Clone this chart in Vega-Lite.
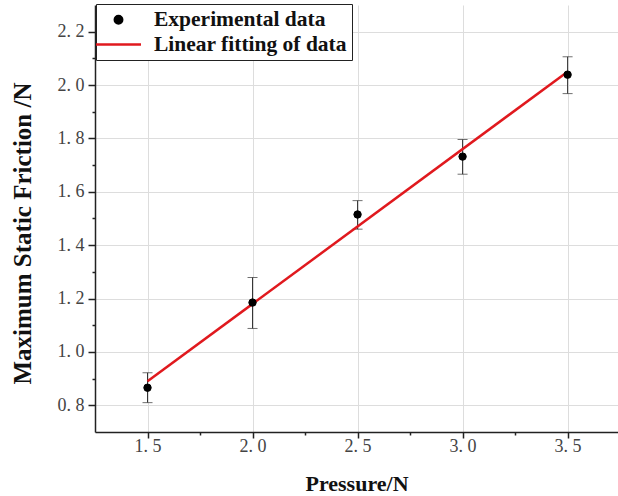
{
  "$schema": "https://vega.github.io/schema/vega-lite/v6.json",
  "width": 523,
  "height": 427,
  "autosize": "none",
  "padding": {"left": 95, "top": 5, "right": 0, "bottom": 64},
  "background": "white",
  "config": {
    "view": {"stroke": null},
    "font": "Liberation Serif",
    "axis": {
      "labelFont": "Liberation Serif",
      "labelFontSize": 18,
      "labelColor": "#444444",
      "titleFont": "Liberation Serif",
      "titleFontWeight": "bold",
      "titleFontSize": 22,
      "titleColor": "#111111",
      "domainColor": "#222222",
      "domainWidth": 1.5,
      "tickColor": "#222222",
      "tickWidth": 1.5,
      "gridColor": "#dddddd",
      "gridWidth": 1
    }
  },
  "datasets": {
    "exp": [
      {"p": 1.5, "f": 0.866, "lo": 0.81, "hi": 0.922, "series": "Experimental data"},
      {"p": 2.0, "f": 1.185, "lo": 1.088, "hi": 1.279, "series": "Experimental data"},
      {"p": 2.5, "f": 1.515, "lo": 1.46, "hi": 1.567, "series": "Experimental data"},
      {"p": 3.0, "f": 1.732, "lo": 1.666, "hi": 1.796, "series": "Experimental data"},
      {"p": 3.5, "f": 2.039, "lo": 1.968, "hi": 2.106, "series": "Experimental data"}
    ],
    "fit": [
      {"p": 1.5, "f": 0.89, "series": "Linear fitting of data"},
      {"p": 3.5, "f": 2.05, "series": "Linear fitting of data"}
    ]
  },
  "layer": [
    {
      "data": {"name": "exp"},
      "mark": {"type": "rule", "color": "#333333", "strokeWidth": 1},
      "encoding": {
        "x": {"field": "p", "type": "quantitative", "scale": {"domain": [1.25, 3.74], "nice": false, "zero": false},
          "axis": {"orient": "bottom", "values": [1.5, 2.0, 2.5, 3.0, 3.5], "grid": true, "tickSize": 6, "labelPadding": -1,
            "labelExpr": "replace(format(datum.value, '.1f'), '.', '. ')", "title": "Pressure/N", "titlePadding": 18}},
        "y": {"field": "lo", "type": "quantitative", "scale": {"domain": [0.7, 2.3], "nice": false, "zero": false},
          "axis": {"orient": "left", "values": [0.8, 1.0, 1.2, 1.4, 1.6, 1.8, 2.0, 2.2], "grid": true, "tickSize": 7, "labelPadding": 4,
            "labelExpr": "replace(format(datum.value, '.1f'), '.', '. ')", "title": "Maximum Static Friction /N", "titleFontSize": 25, "titlePadding": 22, "titleY": 228}},
        "y2": {"field": "hi"}
      }
    },
    {
      "data": {"name": "exp"},
      "mark": {"type": "tick", "color": "#333333", "thickness": 1, "size": 10, "orient": "horizontal"},
      "encoding": {
        "x": {"field": "p", "type": "quantitative",
          "axis": {"orient": "bottom", "values": [1.75, 2.25, 2.75, 3.25], "grid": false, "tickSize": 3, "labels": false, "domain": false, "title": null}},
        "y": {"field": "hi", "type": "quantitative",
          "axis": {"orient": "left", "values": [0.9, 1.1, 1.3, 1.5, 1.7, 1.9, 2.1], "grid": false, "tickSize": 3, "labels": false, "domain": false, "title": null}}
      }
    },
    {
      "data": {"name": "exp"},
      "mark": {"type": "tick", "color": "#333333", "thickness": 1, "size": 10, "orient": "horizontal"},
      "encoding": {
        "x": {"field": "p", "type": "quantitative", "axis": null},
        "y": {"field": "lo", "type": "quantitative", "axis": null}
      }
    },
    {
      "data": {"name": "fit"},
      "mark": {"type": "line", "strokeWidth": 2.5, "color": "#e0191e"},
      "encoding": {
        "x": {"field": "p", "type": "quantitative", "axis": null},
        "y": {"field": "f", "type": "quantitative", "axis": null}
      }
    },
    {
      "data": {"name": "exp"},
      "mark": {"type": "point", "filled": false, "strokeWidth": 1, "opacity": 1},
      "encoding": {
        "x": {"field": "p", "type": "quantitative", "axis": null},
        "y": {"field": "f", "type": "quantitative", "axis": null},
        "fill": {"field": "series", "type": "nominal",
          "scale": {"domain": ["Experimental data", "Linear fitting of data"], "range": ["#000000", "transparent"]},
          "legend": {
            "title": null,
            "orient": "none",
            "legendX": 1,
            "legendY": -1,
            "fillColor": "white",
            "strokeColor": "#222222",
            "padding": 5,
            "labelFont": "Liberation Serif",
            "labelFontWeight": "bold",
            "labelFontSize": 21.5,
            "labelColor": "#111111",
            "labelLimit": 0,
            "labelOffset": 23,
            "rowPadding": 1,
            "symbolOffset": 5,
            "symbolStrokeWidth": 2.5,
            "symbolOpacity": 1
          }},
        "stroke": {"field": "series", "type": "nominal",
          "scale": {"domain": ["Experimental data", "Linear fitting of data"], "range": ["#000000", "#e0191e"]},
          "legend": {"title": null}},
        "shape": {"field": "series", "type": "nominal",
          "scale": {"domain": ["Experimental data", "Linear fitting of data"], "range": ["circle", "M-2,0H2"]},
          "legend": {"title": null}},
        "size": {"field": "series", "type": "ordinal",
          "scale": {"domain": ["Experimental data", "Linear fitting of data"], "range": [55, 506]},
          "legend": {"title": null}}
      }
    }
  ],
  "resolve": {"axis": {"x": "independent", "y": "independent"}}
}
